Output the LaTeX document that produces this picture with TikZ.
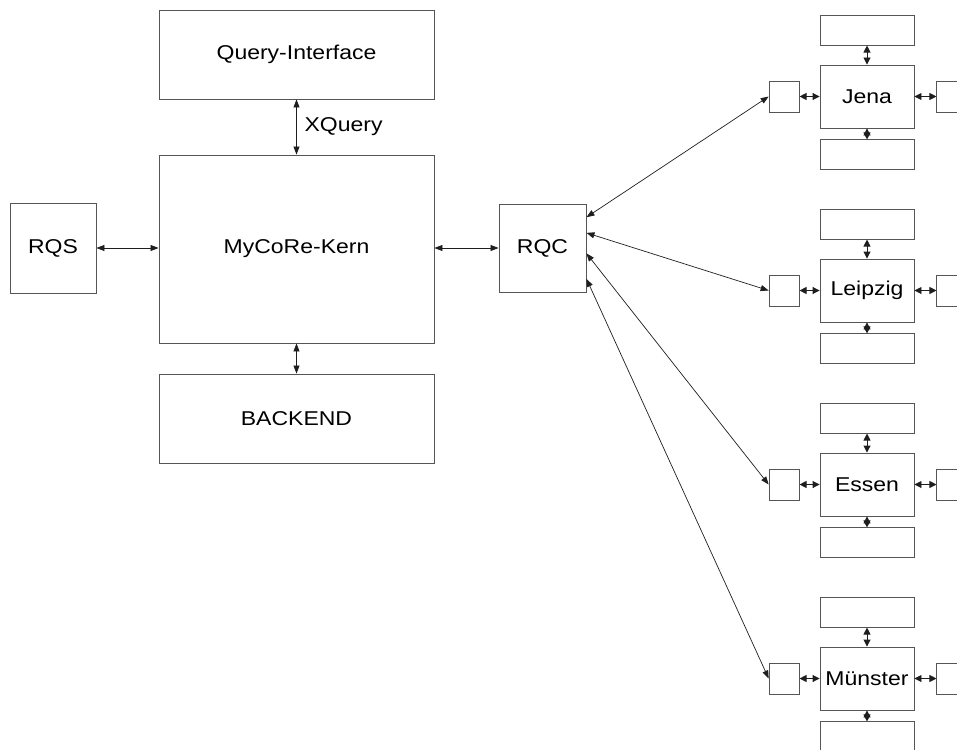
\documentclass[tikz,border=0pt]{standalone}
\usepackage{fontspec}
\setmainfont[FakeStretch=1.15]{Liberation Sans}
\usetikzlibrary{arrows.meta,positioning}
\definecolor{boxline}{HTML}{555555}
\definecolor{arrowline}{HTML}{1E1E1E}

\begin{document}
\begin{tikzpicture}[x=1pt,y=-1pt,
  box/.style={draw=boxline,line width=0.9pt,inner sep=0pt,font=\fontsize{20}{24}\selectfont},
  link/.style={arrowline,line width=0.7pt,{Triangle[length=8pt,width=6pt]}-{Triangle[length=8pt,width=6pt]}},
  stub/.style={arrowline,line width=0.9pt,{Triangle[length=7pt,width=7pt]}-{Triangle[length=7pt,width=7pt]}}]
  \useasboundingbox (0,0) rectangle (957,749);
  \clip (0,0) rectangle (957,749);

  % Core with its neighbours
  \node[box,minimum width=275pt,minimum height=188pt] (kern) at (296.5,249) {MyCoRe-Kern};
  \node[box,minimum width=275pt,minimum height=89pt] (qi) at (296.5,54.5) {Query-Interface};
  \node[box,minimum width=275pt,minimum height=89pt] (backend) at (296.5,418.5) {BACKEND};
  \node[box,minimum width=86pt,minimum height=90pt] (rqs) at (53,248) {RQS};
  \node[box,minimum width=87pt,minimum height=88pt] (rqc) at (542.5,248) {RQC};
  \node[font=\fontsize{20}{24}\selectfont,anchor=west] (xq) at (301,127) {XQuery};

  \draw[link] (qi) -- (kern);
  \draw[link] (kern) -- (backend);
  \draw[link] (rqs) -- (rqs -| kern.west);
  \draw[link] (kern.east |- rqc) -- (rqc);

  % Remote sites
  \foreach \city/\ang [count=\i] in {Jena/35,Leipzig/19,Essen/-7,Münster/-35} {
    \pgfmathsetmacro{\cy}{96.5+194*(\i-1)}
    \node[box,minimum width=94pt,minimum height=63pt] (city\i) at (867,\cy) {\city};
    \node[box,minimum width=94pt,minimum height=30pt,above=19pt of city\i] (ctop\i) {};
    \node[box,minimum width=94pt,minimum height=30pt,below=11pt of city\i] (cbot\i) {};
    \node[box,minimum width=30pt,minimum height=31pt,left=20pt of city\i] (cleft\i) {};
    \node[box,minimum width=30pt,minimum height=31pt,right=22pt of city\i] (cright\i) {};
    \draw[link] (rqc.\ang) -- (cleft\i.west);
    \draw[stub] (cleft\i) -- (city\i);
    \draw[stub] (city\i) -- (cright\i);
    \draw[stub] (ctop\i) -- (city\i);
    \draw[stub] (city\i) -- (cbot\i);
  }
\end{tikzpicture}
\end{document}
